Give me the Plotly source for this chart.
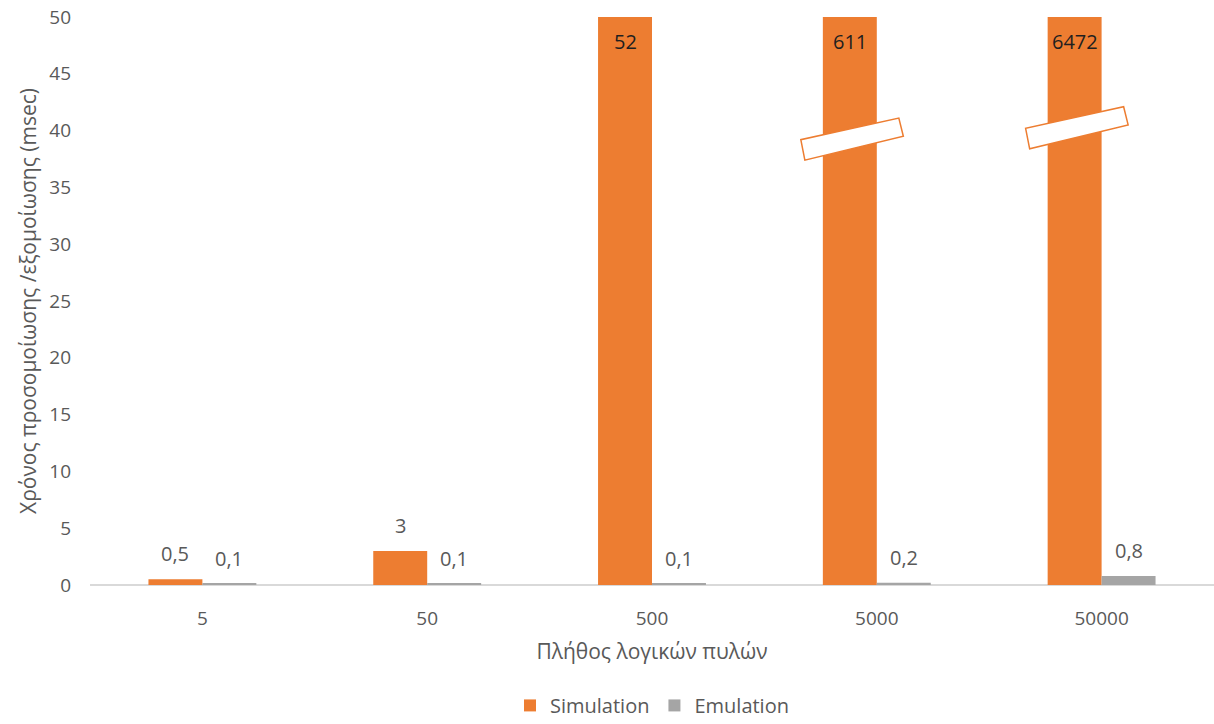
import plotly.graph_objects as go

categories = ["5", "50", "500", "5000", "50000"]
simulation = [0.5, 3, 52, 611, 6472]
emulation = [0.1, 0.1, 0.1, 0.2, 0.8]
y_ticks = [0, 5, 10, 15, 20, 25, 30, 35, 40, 45, 50]
y_max = 50

ORANGE = "#ED7D31"
GRAY = "#A5A5A5"
TXT = "#595959"
FONT = "Open Sans"
W = 0.24

xs = list(range(len(categories)))

fig = go.Figure()
fig.add_trace(go.Bar(x=xs, y=simulation, name="Simulation", marker_color=ORANGE,
                     width=W, offset=-W, marker_line_width=0))
fig.add_trace(go.Bar(x=xs, y=emulation, name="Emulation", marker_color=GRAY,
                     width=W, offset=0, marker_line_width=0))

def fmt(v):
    return (f"{v:g}").replace(".", ",")

annotations = []
for series, dx in ((simulation, -W / 2), (emulation, W / 2)):
    for i, v in enumerate(series):
        if v > y_max:
            annotations.append(dict(x=i + dx, y=y_max, xref="x", yref="y", text=fmt(v),
                                    showarrow=False, yanchor="top", yshift=-9,
                                    font=dict(family=FONT, size=20, color="#1F1F1F")))
        else:
            annotations.append(dict(x=i + dx, y=v, xref="x", yref="y", text=fmt(v),
                                    showarrow=False, yanchor="bottom", yshift=10,
                                    font=dict(family=FONT, size=20, color=TXT)))

# axis-break markers on clipped bars
shapes = []
break_marks = [(2.89, 38.9), (3.89, 39.9)]
for cx, cy in break_marks:
    p = [(cx - 0.228, cy + 0.3), (cx - 0.210, cy - 1.5),
         (cx + 0.228, cy + 0.6), (cx + 0.208, cy + 2.2)]
    path = f"M {p[0][0]},{p[0][1]} L {p[1][0]},{p[1][1]} L {p[2][0]},{p[2][1]} L {p[3][0]},{p[3][1]} Z"
    shapes.append(dict(type="path", xref="x", yref="y", path=path,
                       fillcolor="white", line=dict(color=ORANGE, width=1.5)))

fig.update_layout(
    width=1214, height=724,
    margin=dict(l=90, r=0, t=17, b=139, autoexpand=False),
    paper_bgcolor="white", plot_bgcolor="white",
    barmode="overlay",
    separators=",.",
    font=dict(family=FONT, size=19, color=TXT),
    showlegend=True,
    legend=dict(orientation="h", x=0.5, xanchor="center", y=-0.212, yanchor="middle",
                itemwidth=30, tracegroupgap=0,
                font=dict(family=FONT, size=20, color=TXT), traceorder="normal"),
    annotations=annotations,
    shapes=shapes,
    xaxis=dict(range=[-0.5, len(categories) - 0.5], tickmode="array", tickvals=xs,
               ticktext=categories, showgrid=False, zeroline=False,
               showline=False, ticks="", ticklabelstandoff=20,
               tickfont=dict(family=FONT, size=19, color=TXT),
               title=dict(text="Πλήθος λογικών πυλών", standoff=14,
                          font=dict(family=FONT, size=21, color=TXT))),
    yaxis=dict(range=[0, y_max], tickmode="array", tickvals=y_ticks, showgrid=False,
               zeroline=True, zerolinecolor="#D9D9D9", zerolinewidth=1.5,
               showline=False, ticks="", ticklabelstandoff=18,
               tickfont=dict(family=FONT, size=19, color=TXT),
               title=dict(text="Χρόνος προσομοίωσης /εξομοίωσης (msec)", standoff=6,
                          font=dict(family=FONT, size=21, color=TXT))),
)

fig.write_html("out.html")
